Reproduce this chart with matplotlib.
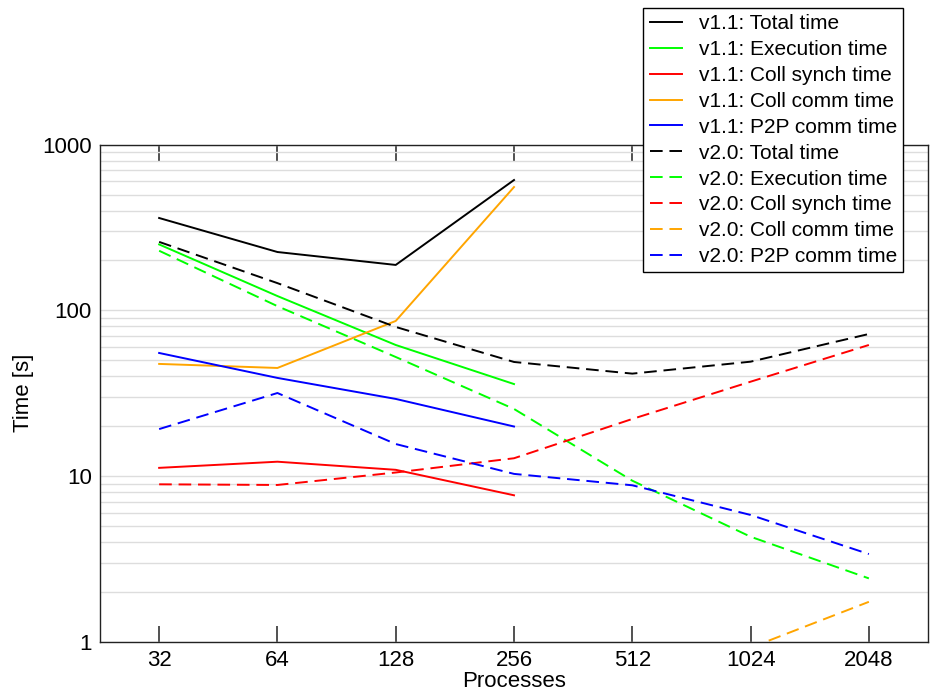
import numpy as np
import matplotlib
matplotlib.use("Agg")
import matplotlib.pyplot as plt
from matplotlib.ticker import LogLocator, NullFormatter, FixedLocator

plt.rcParams["font.family"] = ["Liberation Sans", "DejaVu Sans"]

# 横軸: プロセス数
procs = ["32", "64", "128", "256", "512", "1024", "2048"]

# v1.1 (256まで)
v11_total = [361, 225, 188, 612]
v11_exec = [250, 122, 61.8, 35.9]
v11_synch = [11.2, 12.2, 10.9, 7.65]
v11_coll = [47.5, 44.9, 86.3, 555]
v11_p2p = [55.3, 39.1, 29.2, 19.9]

# v2.0
v20_total = [259, 146, 79.4, 48.8, 41.5, 49.0, 72.0]
v20_exec = [229, 106, 52.3, 25.4, 9.37, 4.3, 2.41]
v20_synch = [8.91, 8.83, 10.5, 12.8, 22.1, 37.1, 61.8]
v20_coll = [np.nan, np.nan, np.nan, np.nan, np.nan, 0.92, 1.74]
v20_p2p = [19.2, 31.7, 15.6, 10.3, 8.79, 5.82, 3.38]

names = ["Total time", "Execution time", "Coll synch time", "Coll comm time", "P2P comm time"]
colors = ["black", "#00ff00", "red", "orange", "blue"]

fig = plt.figure(figsize=(9.31, 6.98), dpi=100)
ax = fig.add_axes([0.1074, 0.0807, 0.8894, 0.712])

x11 = np.arange(len(v11_total))
x20 = np.arange(len(procs))

handles = []
for name, c, y in zip(names, colors, [v11_total, v11_exec, v11_synch, v11_coll, v11_p2p]):
    h, = ax.plot(x11, y, color=c, lw=1.4, label="v1.1: " + name)
    handles.append(h)
for name, c, y in zip(names, colors, [v20_total, v20_exec, v20_synch, v20_coll, v20_p2p]):
    h, = ax.plot(x20, y, color=c, lw=1.4, dashes=(6.5, 3.5), label="v2.0: " + name)
    handles.append(h)

ax.set_yscale("log")
ax.set_ylim(1, 1000)
ax.set_xlim(-0.5, len(procs) - 0.5)
ax.set_xticks(x20)
ax.set_xticklabels(procs)
ax.yaxis.set_major_locator(FixedLocator([1, 10, 100, 1000]))
ax.set_yticklabels(["1", "10", "100", "1000"])
ax.yaxis.set_minor_locator(LogLocator(base=10, subs=np.arange(2, 10)))
ax.yaxis.set_minor_formatter(NullFormatter())

# グリッド
ax.grid(True, axis="y", which="both", color="#dddddd", lw=1)
ax.set_axisbelow(True)

ax.tick_params(axis="x", direction="in", length=11.5, width=1.2, color="#333333",
               top=True, labelsize=16, pad=6)
ax.tick_params(axis="y", which="both", length=0, labelsize=16, pad=6)
for s in ax.spines.values():
    s.set_color("#222222")
    s.set_linewidth(1)

ax.set_xlabel("Processes", fontsize=16, labelpad=0)
ax.set_ylabel("Time [s]", fontsize=16, labelpad=6)

leg = fig.legend(handles=handles, loc="upper right", bbox_to_anchor=(0.970, 0.9885),
                 fontsize=15, frameon=True, fancybox=False, framealpha=1,
                 edgecolor="black", handlelength=1.55, labelspacing=0.33,
                 borderpad=0.3, handletextpad=0.8, borderaxespad=0)
leg.get_frame().set_linewidth(1)

fig.savefig("out.png", dpi=100)
